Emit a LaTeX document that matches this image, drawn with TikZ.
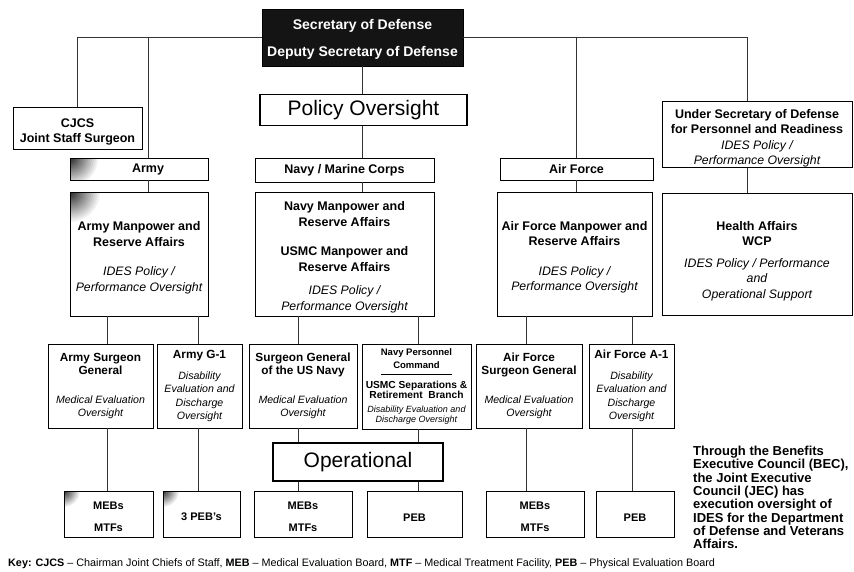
\documentclass[tikz,border=0pt]{standalone}
\usepackage{fontspec}
\setmainfont{Liberation Sans}

% fonts
\newcommand{\fSec}{\bfseries\fontsize{14}{17}\selectfont}
\newcommand{\fBig}{\fontsize{21}{25}\selectfont}
\newcommand{\fHd}{\bfseries\fontsize{12.5}{15.5}\selectfont}
\newcommand{\fMpDesc}{\mdseries\itshape\fontsize{12.3}{15}\selectfont}
\newcommand{\fSubHd}{\bfseries\fontsize{11.8}{13.5}\selectfont}
\newcommand{\fSubDesc}{\mdseries\itshape\fontsize{10.6}{13}\selectfont}
\newcommand{\fNpcA}{\bfseries\fontsize{9.5}{10.5}\selectfont}
\newcommand{\fNpcB}{\bfseries\fontsize{10.2}{11}\selectfont}
\newcommand{\fNpcC}{\mdseries\itshape\fontsize{9}{10.5}\selectfont}
\newcommand{\fBot}{\bfseries\fontsize{11}{13}\selectfont}
\newcommand{\fNote}{\bfseries\fontsize{13}{13.3}\selectfont}
\newcommand{\fKey}{\fontsize{10.8}{12}\selectfont}
% pushes the text of a box down
\newcommand{\dropby}[1]{\rule{0pt}{#1}}

\tikzset{
  box/.style={draw=black, line width=0.8pt, inner sep=0pt, align=center},
  bigbox/.style={box, line width=1.3pt, font=\fBig},
  conn/.style={draw=black!80, line width=0.8pt}
}

\begin{document}
\begin{tikzpicture}[x=1pt,y=-1pt]
\useasboundingbox (0,0) rectangle (854,571);

% dark corners: corner x / corner y / clip width / clip height / fade radius
\foreach \cx/\cy/\cw/\ch/\cr in {70/158/40/22/30, 70/192/40/40/32, 64/491/26/19/17, 163/491/26/19/17} {
  \begin{scope}
    \clip (\cx,\cy) rectangle ++(\cw,\ch);
    \foreach \i [evaluate=\i as \rr using \cr*(1-\i/15), evaluate=\i as \pct using 88*\i/15] in {0,...,14}
      \fill[black!\pct] (\cx,\cy) circle[radius=\rr pt];
  \end{scope}
}

% top
\node (secdef) [box, fill=black!92, text=white, font=\fSec, minimum width=201pt, minimum height=57pt]
  at (362.5,37.5) {\dropby{14pt}Secretary of Defense\\[10pt]Deputy Secretary of Defense};
\node (policy) [bigbox, minimum width=207pt, minimum height=31pt] at (363.5,110) {Policy Oversight};
\node (cjcs) [box, font=\fHd, minimum width=129pt, minimum height=42pt] at (77.5,128) {\dropby{17pt}CJCS\\Joint Staff Surgeon};
\node (usd) [box, font=\fHd, minimum width=190pt, minimum height=66pt] at (757,134.5)
  {\dropby{17pt}Under Secretary of Defense\\for Personnel and Readiness\\\fMpDesc IDES Policy /\\\fMpDesc Performance Oversight};

% services
\node (army) [box, font=\fHd, minimum width=138pt, minimum height=22pt] at (139,169) {\hspace*{18pt}Army};
\node (navy) [box, font=\fHd, minimum width=179pt, minimum height=24pt] at (344.5,170) {Navy / Marine Corps};
\node (airforce) [box, font=\fHd, minimum width=153pt, minimum height=22pt] at (576.5,169) {Air Force};

% manpower
\node (armyMP) [box, font=\fHd, minimum width=138pt, minimum height=124pt] at (139,254)
  {\dropby{17pt}Army Manpower and\\Reserve Affairs\\[14pt]\fMpDesc IDES Policy /\\\fMpDesc Performance Oversight};
\node (navyMP) [box, font=\fHd, minimum width=179pt, minimum height=124pt] at (344.5,254)
  {\dropby{16pt}Navy Manpower and\\Reserve Affairs\\[14pt]USMC Manpower and\\Reserve Affairs\\[8pt]\fMpDesc IDES Policy /\\\fMpDesc Performance Oversight};
\node (afMP) [box, font=\fHd, minimum width=155pt, minimum height=124pt] at (574.5,254)
  {\dropby{16pt}Air Force Manpower and\\Reserve Affairs\\[14pt]\fMpDesc IDES Policy /\\\fMpDesc Performance Oversight};
\node (health) [box, font=\fHd, minimum width=190pt, minimum height=122pt] at (757,254)
  {\dropby{23pt}Health Affairs\\WCP\\[6pt]\fMpDesc IDES Policy / Performance\\\fMpDesc and\\\fMpDesc Operational Support};

% oversight
\node (armySG) [box, font=\fSubHd, minimum width=105pt, minimum height=84pt] at (100.5,386)
  {Army Surgeon\\General\\[15pt]\fSubDesc Medical Evaluation\\\fSubDesc Oversight};
\node (armyG1) [box, font=\fSubHd, minimum width=85pt, minimum height=84pt] at (199.5,386)
  {Army G-1\\[7pt]\fSubDesc Disability\\\fSubDesc Evaluation and\\\fSubDesc Discharge\\\fSubDesc Oversight};
\node (navySG) [box, font=\fSubHd, minimum width=108pt, minimum height=84pt] at (303,386)
  {Surgeon General\\of the US Navy\\[15pt]\fSubDesc Medical Evaluation\\\fSubDesc Oversight};
\node (npc) [box, font=\fNpcA, minimum width=109pt, minimum height=85pt] at (416.5,386.5)
  {Navy Personnel\\[3pt]Command\\[-4.5pt]\rule{71pt}{0.6pt}\\[3pt]\fNpcB USMC Separations \&\\\fNpcB Retirement~ Branch\\[3pt]\fNpcC Disability Evaluation and\\\fNpcC Discharge Oversight};
\node (afSG) [box, font=\fSubHd, minimum width=106pt, minimum height=84pt] at (529,386)
  {Air Force\\Surgeon General\\[15pt]\fSubDesc Medical Evaluation\\\fSubDesc Oversight};
\node (afA1) [box, font=\fSubHd, minimum width=85pt, minimum height=84pt] at (631.5,386)
  {Air Force A-1\\[7pt]\fSubDesc Disability\\\fSubDesc Evaluation and\\\fSubDesc Discharge\\\fSubDesc Oversight};

\node (oper) [bigbox, minimum width=170pt, minimum height=38pt] at (358,462) {Operational};

% boards
\node (mebArmy) [box, font=\fBot, minimum width=89pt, minimum height=46pt] at (108.5,514) {\dropby{14pt}MEBs\\[9pt]MTFs};
\node (pebArmy) [box, font=\fBot, minimum width=77pt, minimum height=46pt] at (201.5,514) {\dropby{14pt}3 PEB's};
\node (mebNavy) [box, font=\fBot, minimum width=98pt, minimum height=46pt] at (303,514) {\dropby{14pt}MEBs\\[9pt]MTFs};
\node (pebNavy) [box, font=\fBot, minimum width=95pt, minimum height=46pt] at (414.5,514) {\dropby{14pt}PEB};
\node (mebAF) [box, font=\fBot, minimum width=98pt, minimum height=46pt] at (535,514) {\dropby{14pt}MEBs\\[9pt]MTFs};
\node (pebAF) [box, font=\fBot, minimum width=78pt, minimum height=46pt] at (635,514) {\dropby{14pt}PEB};

% notes
\node (becnote) [anchor=north west, align=left, inner sep=0pt, font=\fNote] at (693,446)
  {Through the Benefits\\Executive Council (BEC),\\the Joint Executive\\Council (JEC) has\\execution oversight of\\IDES for the Department\\of Defense and Veterans\\Affairs.};
\node (keytxt) [anchor=base west, inner sep=0pt, font=\fKey] at (8,566)
  {\textbf{Key: CJCS} – Chairman Joint Chiefs of Staff, \textbf{MEB} – Medical Evaluation Board, \textbf{MTF} – Medical Treatment Facility, \textbf{PEB} – Physical Evaluation Board};

% connector columns
\coordinate (armyx) at (148,0);
\coordinate (navyx) at (362,0);
\coordinate (usdx) at (747,0);
\coordinate (c1) at (107,0);
\coordinate (c2) at (198,0);
\coordinate (c3) at (298,0);
\coordinate (c4) at (418,0);
\coordinate (c5) at (526,0);
\coordinate (c6) at (632,0);

% connectors
\draw[conn] (cjcs.north) |- (secdef.west);
\draw[conn] (secdef.east) -| (usd.north -| usdx);
\draw[conn] (secdef.west -| armyx) -- (army.north -| armyx);
\draw[conn] (army.south -| armyx) -- (armyMP.north -| armyx);
\draw[conn] (secdef.east -| airforce.north) -- (airforce.north);
\draw[conn] (airforce.south) -- (airforce.south |- afMP.north);
\draw[conn] (secdef.south -| navyx) -- (policy.north -| navyx);
\draw[conn] (policy.south -| navyx) -- (navy.north -| navyx);
\draw[conn] (navy.south -| navyx) -- (navyMP.north -| navyx);
\draw[conn] (usd.south -| usdx) -- (health.north -| usdx);

\draw[conn] (armyMP.south -| c1) -- (armySG.north -| c1);
\draw[conn] (armyMP.south -| c2) -- (armyG1.north -| c2);
\draw[conn] (navyMP.south -| c3) -- (navySG.north -| c3);
\draw[conn] (navyMP.south -| c4) -- (npc.north -| c4);
\draw[conn] (afMP.south -| c5) -- (afSG.north -| c5);
\draw[conn] (afMP.south -| c6) -- (afA1.north -| c6);

\draw[conn] (armySG.south -| c1) -- (mebArmy.north -| c1);
\draw[conn] (armyG1.south -| c2) -- (pebArmy.north -| c2);
\draw[conn] (navySG.south -| c3) -- (oper.north -| c3);
\draw[conn] (npc.south -| c4) -- (oper.north -| c4);
\draw[conn] (oper.south -| c3) -- (mebNavy.north -| c3);
\draw[conn] (oper.south -| c4) -- (pebNavy.north -| c4);
\draw[conn] (afSG.south -| c5) -- (mebAF.north -| c5);
\draw[conn] (afA1.south -| c6) -- (pebAF.north -| c6);
\end{tikzpicture}
\end{document}
